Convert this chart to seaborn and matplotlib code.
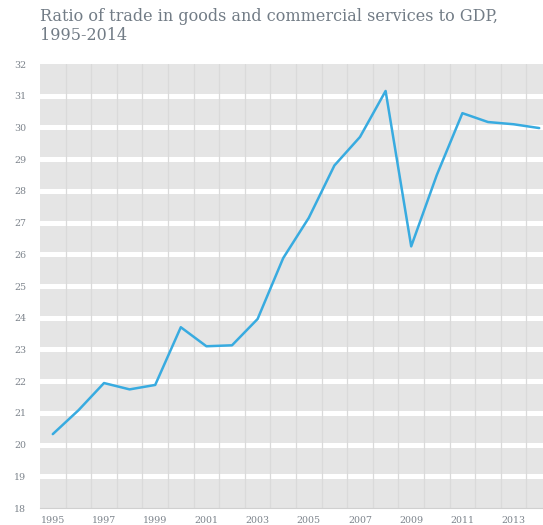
import matplotlib
matplotlib.use("Agg")
import matplotlib.pyplot as plt
import seaborn as sns
import pandas as pd
import numpy as np

years = list(range(1995, 2015))
ratio = [20.33, 21.08, 21.94, 21.74, 21.88, 23.70, 23.10, 23.13, 23.96, 25.88,
         27.15, 28.80, 29.70, 31.15, 26.25, 28.50, 30.45, 30.17, 30.10, 29.98]
ytick_vals = list(range(18, 33))
xtick_years = list(range(1995, 2015, 2))
title = "Ratio of trade in goods and commercial services to GDP,\n1995-2014"

df = pd.DataFrame({"year": years, "ratio": ratio})

sns.set_theme(style="white")
plt.rcParams['font.family'] = ['DejaVu Serif']

W, H = 543, 525
fig = plt.figure(figsize=(W / 100, H / 100), dpi=100)
ax = fig.add_axes([40 / W, 17 / H, 512 / W, 444 / H])
ax.set_facecolor("#e5e5e5")

x0, x1 = 1994.5, 2014.5
ax.set_xlim(x0, x1)
ax.set_ylim(18, 32)

for v in ytick_vals[1:-1]:
    ax.axhline(v, color="white", lw=3.6, zorder=1)
for yr in years[:-1]:
    ax.axvline(yr + 0.5, color="#dadada", lw=0.9, zorder=1.5)

sns.lineplot(data=df, x="year", y="ratio", ax=ax, color="#38abe0", lw=1.8, zorder=3)

for s in ["top", "right", "left"]:
    ax.spines[s].set_visible(False)
ax.spines["bottom"].set_color("#d0d0d0")
ax.spines["bottom"].set_linewidth(0.8)

ax.set_yticks(ytick_vals)
ax.set_yticklabels([str(v) for v in ytick_vals])
ax.set_xticks(xtick_years)
ax.set_xticklabels([str(v) for v in xtick_years])
ax.tick_params(axis="both", length=0, labelsize=6.8, colors="#7d848c")
ax.tick_params(axis="y", pad=10)
ax.tick_params(axis="x", pad=6)
ax.set_xlabel("")
ax.set_ylabel("")

fig.text(40 / W, 1 - 8 / H, title, ha="left", va="top", fontsize=11.5,
         color="#727c86", linespacing=1.15, family="DejaVu Serif")

fig.savefig("out.png", dpi=100)
